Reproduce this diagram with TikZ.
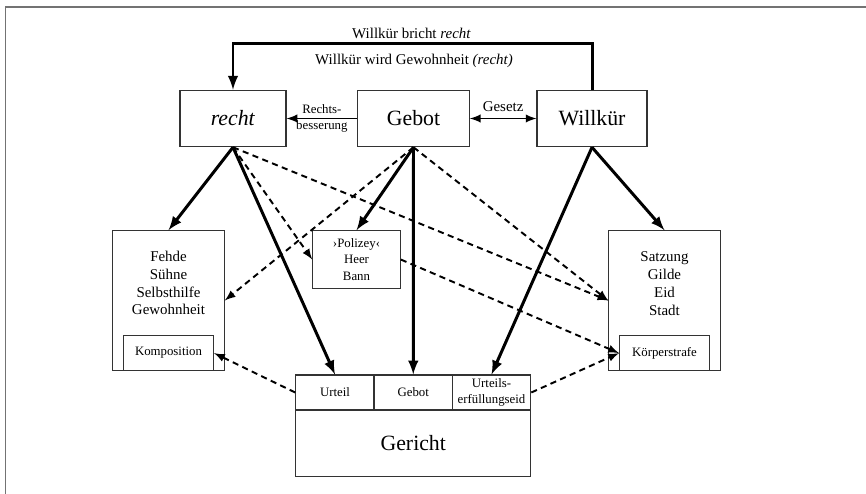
\documentclass[tikz,border=0pt]{standalone}
\usepackage{fontspec}
\setmainfont{Liberation Serif}

\begin{document}
\begin{tikzpicture}[
    box/.style={draw=black!80, line width=0.6pt, inner sep=0pt},
    big/.style={font=\fontsize{12.4}{14}\selectfont},
    mid/.style={font=\fontsize{8.5}{10.2}\selectfont, align=center},
    small/.style={font=\fontsize{7.3}{9.3}\selectfont, align=center},
    strong/.style={-latex, line width=1.7pt},
    weak/.style={-latex, line width=1.1pt, dash pattern=on 3.5pt off 2.5pt},
    thinarrow/.style={line width=1.1pt}
  ]
            \useasboundingbox (0,0) rectangle (17.32,-9.88);
            % Frame round the figure
            \draw[black!55, line width=1.1pt] (0.11,-9.95) -- (0.11,-0.14) -- (17.4,-0.14);

            % First, locate each of the nodes and name them
            \node[box, big, minimum width=2.12cm, minimum height=1.13cm] (recht) at (4.66,-2.37) {\textit{recht}};
            \node[box, big, minimum width=2.23cm, minimum height=1.13cm] (gebot) at (8.27,-2.37) {Gebot};
            \node[box, big, minimum width=2.2cm, minimum height=1.13cm] (willkuer) at (11.84,-2.37) {Willkür};

            \node[mid] (bricht) at (8.23,-0.67) {Willkür bricht \textit{recht}};
            \node[mid] (gewohnheit) at (8.28,-1.22) {Willkür wird Gewohnheit \textit{(recht)}};

            \node[box, minimum width=2.23cm, minimum height=2.79cm] (fehde) at (3.37,-6.01) {};
            \node[mid] (fehdetext) at (3.37,-5.66) {Fehde\\Sühne\\Selbsthilfe\\Gewohnheit};
            \node[box, small, minimum width=1.8cm, minimum height=0.686cm, anchor=south] (kompo) at (fehde.south) {Komposition};

            \node[box, small, minimum width=1.75cm, minimum height=1.15cm] (polizey) at (7.13,-5.19) {›Polizey‹\\Heer\\Bann};

            \node[box, minimum width=2.23cm, minimum height=2.79cm] (satzung) at (13.29,-6.01) {};
            \node[mid] (satzungtext) at (13.29,-5.67) {Satzung\\Gilde\\Eid\\Stadt};
            \node[box, small, minimum width=1.8cm, minimum height=0.686cm, anchor=south] (koerper) at (satzung.south) {Körperstrafe};

            % Gericht with its three cells
            \node[box, small, minimum width=1.57cm, minimum height=0.7cm] (urteil) at (6.70,-7.85) {Urteil};
            \node[box, small, minimum width=1.57cm, minimum height=0.7cm] (gebotcell) at (8.265,-7.85) {Gebot};
            \node[box, small, minimum width=1.57cm, minimum height=0.7cm] (eid) at (9.83,-7.85) {Urteils-\\erfüllungseid};
            \node[box, big, minimum width=4.7cm, minimum height=1.31cm, anchor=north] (gericht) at (8.265,-8.2) {Gericht};

            % Now draw the lines:
            \draw[strong] (willkuer.north) -- ++(0,0.92) -| (recht.north);
            \draw[thinarrow, -latex] (gebot) -- node[small] {Rechts-\\besserung} (recht);
            \draw[thinarrow, latex-latex] (gebot) -- node[mid, above] {Gesetz} (willkuer);

            % solid arrows
            \draw[strong] (recht.south) -- (fehde.north);
            \draw[strong] (recht.south) -- (urteil.north);
            \draw[strong] (gebot.south) -- (polizey.north);
            \draw[strong] (gebot.south) -- (gebotcell.north);
            \draw[strong] (willkuer.south) -- (eid.north);
            \draw[strong] (willkuer.south) -- (satzung.north);

            % dashed arrows
            \draw[weak] (recht.south) -- (polizey.west);
            \draw[weak] (recht.south) -- (satzung.west);
            \draw[weak] (gebot.south) -- (fehde.east);
            \draw[weak] (gebot.south) -- (satzung.west);
            \draw[weak] (polizey.east) -- (koerper.west);
            \draw[weak] (urteil.west) -- (kompo.east);
            \draw[weak] (eid.east) -- (koerper.west);
\end{tikzpicture}
\end{document}
